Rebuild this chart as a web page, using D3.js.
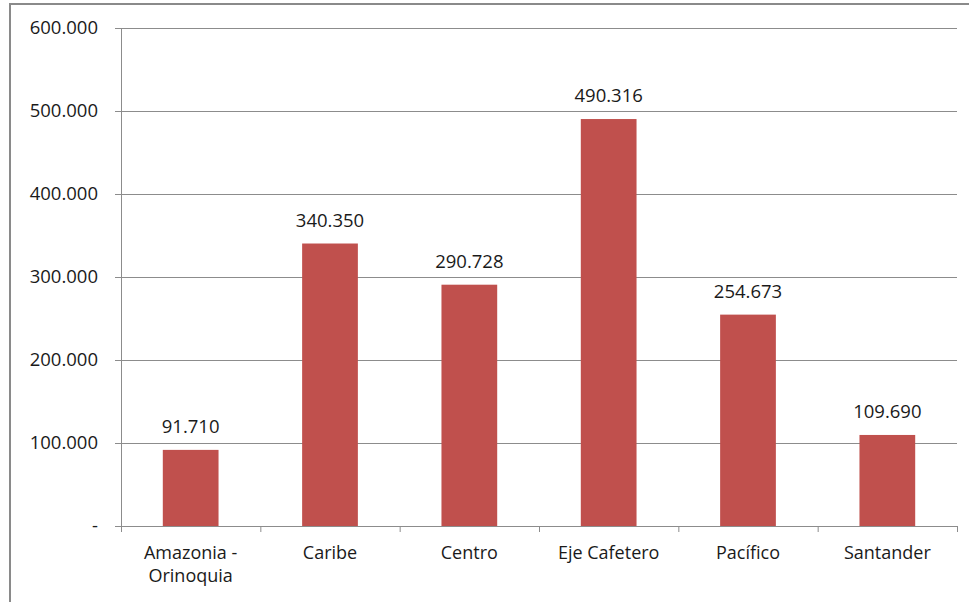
<!DOCTYPE html>
<html>
<head>
<meta charset="utf-8">
<script src="https://cdn.jsdelivr.net/npm/d3@7"></script>
<style>
  body { margin: 0; background: #fff; }
  text { font-family: "Open Sans", "Liberation Sans", Arial, sans-serif; fill: #1a1a1a; }
</style>
</head>
<body>
<div id="chart"></div>
<script>
const regions = ["Amazonia - Orinoquia", "Caribe", "Centro", "Eje Cafetero", "Pacífico", "Santander"];
const values = [91710, 340350, 290728, 490316, 254673, 109690];
const yTicks = [0, 100000, 200000, 300000, 400000, 500000, 600000];

const width = 969, height = 602;
const margin = { left: 121, right: 12, top: 28, bottom: 76 };

// formato con punto de miles, cero como "-"
const fmt = d3.formatLocale({ decimal: ",", thousands: ".", grouping: [3], currency: ["$", ""] }).format(",d");
const tickFmt = d => d === 0 ? "-" : fmt(d);

const svg = d3.select("#chart")
  .append("svg")
  .attr("width", width)
  .attr("height", height)
  .attr("viewBox", [0, 0, width, height]);

// marco del gráfico
svg.append("rect")
  .attr("x", 10).attr("y", 4)
  .attr("width", width).attr("height", height)
  .attr("fill", "none")
  .attr("stroke", "#8a8a8a")
  .attr("stroke-width", 2);

const x = d3.scaleBand()
  .domain(regions)
  .range([margin.left, width - margin.right])
  .paddingInner(0.6).paddingOuter(0.3);

const y = d3.scaleLinear()
  .domain([0, 600000])
  .range([height - margin.bottom, margin.top]);

// líneas de la cuadrícula
svg.append("g")
  .selectAll("line")
  .data(yTicks)
  .join("line")
  .attr("x1", margin.left - 6)
  .attr("x2", width - margin.right)
  .attr("y1", d => y(d) + 0.5)
  .attr("y2", d => y(d) + 0.5)
  .attr("stroke", "#8c8c8c")
  .attr("stroke-width", 1);

// eje vertical
svg.append("line")
  .attr("x1", margin.left + 0.5).attr("x2", margin.left + 0.5)
  .attr("y1", y(600000)).attr("y2", y(0))
  .attr("stroke", "#8c8c8c");

// etiquetas eje Y
svg.append("g")
  .selectAll("text")
  .data(yTicks)
  .join("text")
  .attr("x", 98)
  .attr("y", d => y(d) + 6)
  .attr("text-anchor", "end")
  .attr("font-size", 18.5)
  .text(tickFmt);

// marcas de categoría
const bounds = d3.range(regions.length + 1).map(i => margin.left + i * (width - margin.right - margin.left) / regions.length);
svg.append("g")
  .selectAll("line")
  .data(bounds)
  .join("line")
  .attr("x1", d => d + 0.5).attr("x2", d => d + 0.5)
  .attr("y1", y(0)).attr("y2", y(0) + 6)
  .attr("stroke", "#8c8c8c");

// barras
svg.append("g")
  .selectAll("rect")
  .data(values)
  .join("rect")
  .attr("x", (d, i) => x(regions[i]))
  .attr("width", x.bandwidth())
  .attr("y", d => y(d))
  .attr("height", d => y(0) - y(d))
  .attr("fill", "#c0504d");

// etiquetas de valor
svg.append("g")
  .selectAll("text")
  .data(values)
  .join("text")
  .attr("x", (d, i) => x(regions[i]) + x.bandwidth() / 2)
  .attr("y", d => y(d) - 17)
  .attr("text-anchor", "middle")
  .attr("font-size", 18.5)
  .text(fmt);

// etiquetas de categoría
const catLines = { "Amazonia - Orinoquia": ["Amazonia -", "Orinoquia"] };
svg.append("g")
  .selectAll("text")
  .data(regions)
  .join("text")
  .attr("x", d => x(d) + x.bandwidth() / 2)
  .attr("y", 559)
  .attr("text-anchor", "middle")
  .attr("font-size", 18)
  .selectAll("tspan")
  .data(d => catLines[d] || [d])
  .join("tspan")
  .attr("x", function() { return this.parentNode.getAttribute("x"); })
  .attr("dy", (d, i) => i === 0 ? 0 : 23)
  .text(d => d);
</script>
</body>
</html>
